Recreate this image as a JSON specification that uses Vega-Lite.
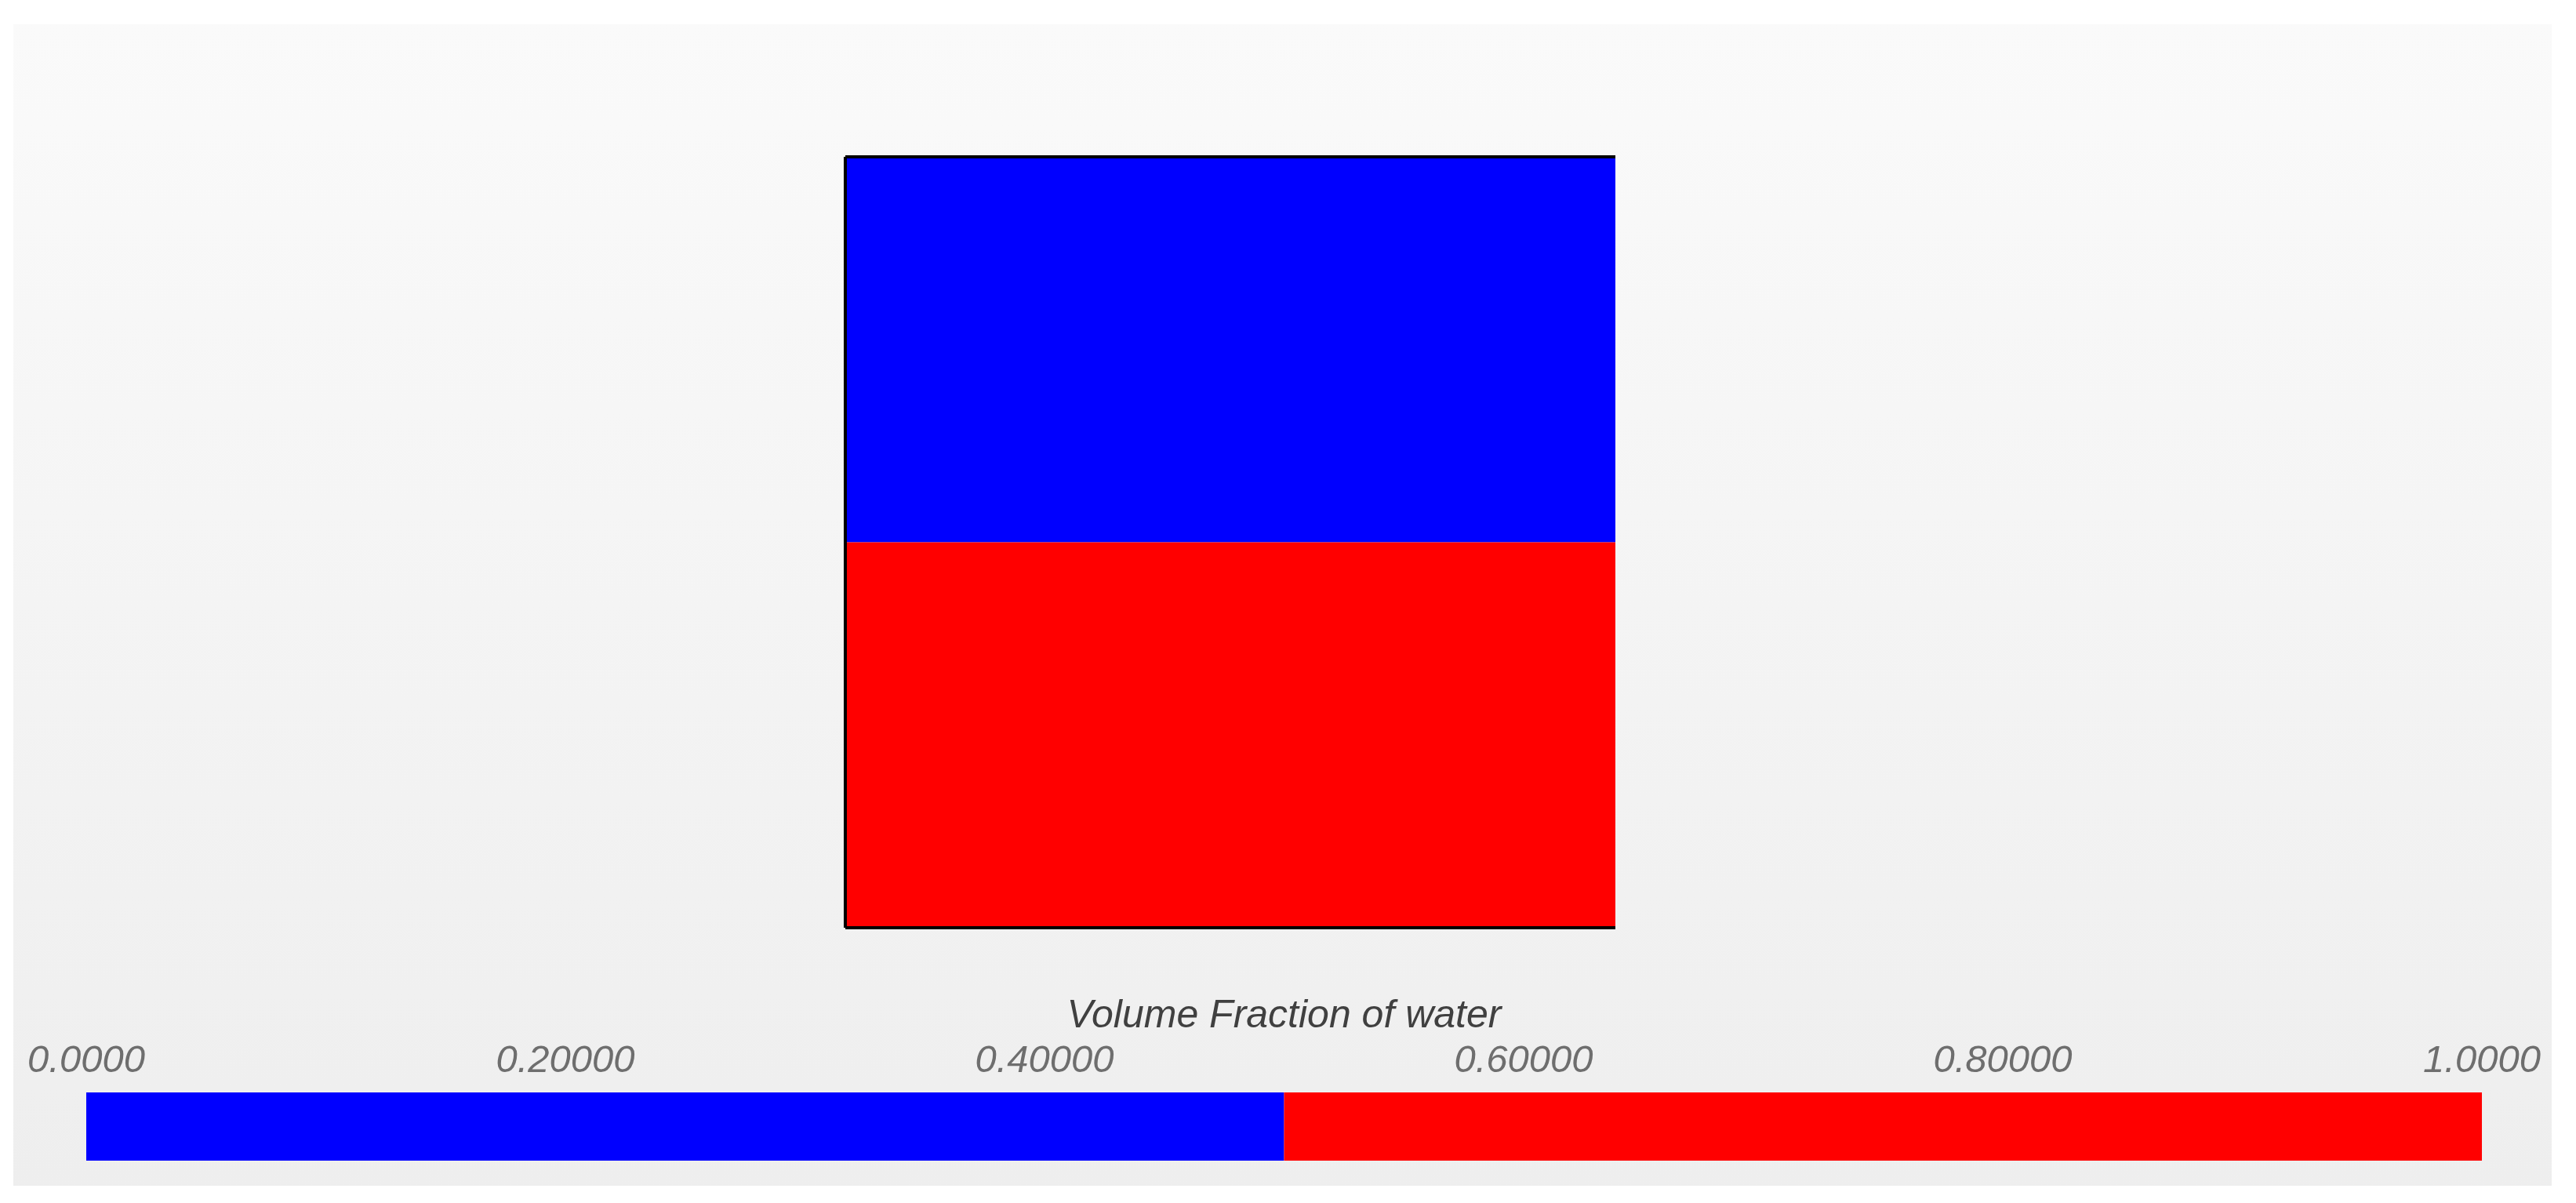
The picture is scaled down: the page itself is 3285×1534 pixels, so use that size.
{
  "$schema": "https://vega.github.io/schema/vega-lite/v6.json",
  "width": 3237,
  "height": 1481,
  "padding": {"left": 17, "top": 31, "right": 31, "bottom": 22},
  "autosize": {"type": "none"},
  "background": "white",
  "config": {"view": {"stroke": null}},
  "datasets": {
    "field": [
      {"region": "air", "xmin": 0, "xmax": 1, "ymin": 0.5, "ymax": 1, "vf": 0},
      {"region": "water", "xmin": 0, "xmax": 1, "ymin": 0, "ymax": 0.5, "vf": 1}
    ],
    "edges": [
      {"side": "top", "x0": 0, "x1": 1, "y0": 1, "y1": 1},
      {"side": "left", "x0": 0, "x1": 0, "y0": 0, "y1": 1},
      {"side": "bottom", "x0": 0, "x1": 1, "y0": 0, "y1": 0}
    ],
    "bar": [
      {"v0": 0, "v1": 0.5, "vf": 0},
      {"v0": 0.5, "v1": 1, "vf": 1}
    ],
    "ticks": [
      {"v": 0, "label": "0.0000"},
      {"v": 0.2, "label": "0.20000"},
      {"v": 0.4, "label": "0.40000"},
      {"v": 0.6, "label": "0.60000"},
      {"v": 0.8, "label": "0.80000"},
      {"v": 1, "label": "1.0000"}
    ],
    "title": [
      {"v": 0.5, "text": "Volume Fraction of water"}
    ]
  },
  "layer": [
    {
      "data": {"values": [{}]},
      "mark": {
        "type": "rect",
        "color": {
          "gradient": "linear",
          "x1": 0, "y1": 0, "x2": 0, "y2": 1,
          "stops": [
            {"offset": 0, "color": "#fafafa"},
            {"offset": 1, "color": "#eeeeee"}
          ]
        }
      },
      "encoding": {}
    },
    {
      "layer": [
        {
          "data": {"name": "field"},
          "mark": {"type": "rect"},
          "encoding": {
            "x": {"field": "xmin", "type": "quantitative", "scale": {"domain": [-1.0804, 2.2159], "nice": false, "zero": false}, "axis": null},
            "x2": {"field": "xmax"},
            "y": {"field": "ymin", "type": "quantitative", "scale": {"domain": [-0.3347, 1.1719], "nice": false, "zero": false}, "axis": null},
            "y2": {"field": "ymax"},
            "color": {"field": "vf", "type": "quantitative", "scale": {"type": "threshold", "domain": [0.5], "range": ["#0000ff", "#ff0000"]}, "legend": null}
          }
        },
        {
          "data": {"name": "edges"},
          "mark": {"type": "rule", "color": "#000000", "strokeWidth": 4},
          "encoding": {
            "x": {"field": "x0", "type": "quantitative"},
            "x2": {"field": "x1"},
            "y": {"field": "y0", "type": "quantitative"},
            "y2": {"field": "y1"}
          }
        }
      ]
    },
    {
      "layer": [
        {
          "data": {"name": "bar"},
          "mark": {"type": "rect"},
          "encoding": {
            "x": {"field": "v0", "type": "quantitative", "scale": {"domain": [-0.03044, 1.02913], "nice": false, "zero": false}, "axis": null},
            "x2": {"field": "v1"},
            "y": {"datum": 0, "type": "quantitative", "scale": {"domain": [-0.368, 16.655], "nice": false, "zero": false}, "axis": null},
            "y2": {"datum": 1},
            "color": {"field": "vf", "type": "quantitative", "scale": {"type": "threshold", "domain": [0.5], "range": ["#0000ff", "#ff0000"]}, "legend": null}
          }
        },
        {
          "data": {"name": "ticks"},
          "mark": {"type": "text", "font": "Liberation Sans", "fontStyle": "italic", "fontSize": 49, "color": "#6e6e6e", "align": "center", "baseline": "middle"},
          "encoding": {
            "x": {"field": "v", "type": "quantitative"},
            "y": {"datum": 1.471, "type": "quantitative"},
            "text": {"field": "label"}
          }
        },
        {
          "data": {"name": "title"},
          "mark": {"type": "text", "font": "Liberation Sans", "fontStyle": "italic", "fontSize": 50, "color": "#404040", "align": "center", "baseline": "middle"},
          "encoding": {
            "x": {"field": "v", "type": "quantitative"},
            "y": {"datum": 2.126, "type": "quantitative"},
            "text": {"field": "text"}
          }
        }
      ]
    }
  ],
  "resolve": {"scale": {"x": "independent", "y": "independent", "color": "independent"}}
}
